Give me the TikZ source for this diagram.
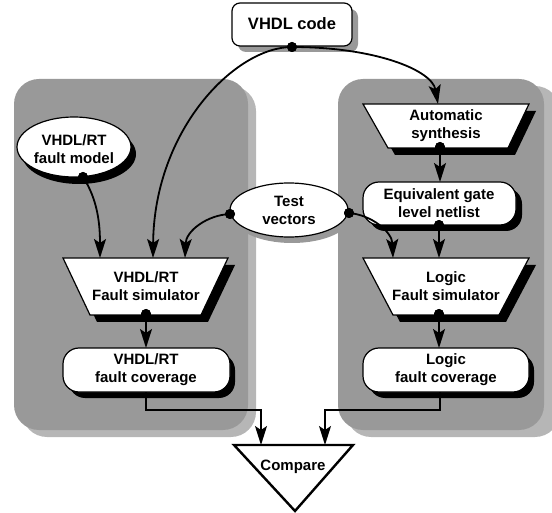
\documentclass[tikz,border=0pt]{standalone}
\usepackage{fontspec}
\setmainfont{Liberation Sans}
\usetikzlibrary{arrows.meta}
\definecolor{panel}{HTML}{999999}
\definecolor{panelshadow}{HTML}{B6B6B6}
\definecolor{outshadow}{HTML}{999999}
\begin{document}
\begin{tikzpicture}[x=1pt,y=-1pt,
  lbl/.style={font=\fontsize{15}{18}\selectfont\bfseries, align=center, inner sep=0pt},
  conn/.style={line width=1.8pt, -{Stealth[length=19pt,width=12pt,inset=4pt]}},
  elbow/.style={line width=1.3pt, -{Stealth[length=19pt,width=12pt,inset=4pt]}},
  dotnode/.style={circle, fill=black, inner sep=0pt, minimum size=10pt},
  shapebox/.style={draw=black, fill=white, line width=1.2pt},
  blackshadow/.style={fill=black},
  greyshadow/.style={fill=outshadow},
]
\useasboundingbox (0,0) rectangle (552,513);

% panels
\fill[panelshadow, rounded corners=25pt] (22,86) rectangle (256,437);
\fill[panel, rounded corners=25pt] (14,79) rectangle (248,430);
\fill[panelshadow, rounded corners=25pt] (346,86) rectangle (560,437);
\fill[panel, rounded corners=25pt] (338,79) rectangle (544,430);

% VHDL code box
\fill[greyshadow, rounded corners=8pt] (238,9) rectangle (358,52);
\draw[shapebox, rounded corners=8pt] (232,3) rectangle (352,46);
\node[lbl, font=\fontsize{16.5}{19}\selectfont\bfseries] (code) at (292,24) {VHDL code};

% VHDL/RT fault model ellipse
\fill[blackshadow] (79,154) ellipse [x radius=57pt, y radius=30pt];
\draw[shapebox] (74,147) ellipse [x radius=57pt, y radius=30pt];
\node[lbl] (model) at (74,149) {VHDL/RT\\fault model};

% Test vectors ellipse
\fill[greyshadow] (292,216) ellipse [x radius=59pt, y radius=27pt];
\draw[shapebox] (289,210) ellipse [x radius=59pt, y radius=27pt];
\node[lbl] (test) at (289,210) {Test\\vectors};

% Automatic synthesis trapezoid
\fill[blackshadow] (370,111) -- (536,111) -- (515,155) -- (395,155) -- cycle;
\draw[shapebox] (363,104) -- (529,104) -- (508,148) -- (388,148) -- cycle;
\node[lbl] (synth) at (446,126) {Automatic\\synthesis};

% Equivalent gate level netlist
\fill[blackshadow, rounded corners=16pt] (369,188) rectangle (522,231);
\draw[shapebox, rounded corners=16pt] (363,182) rectangle (516,225);
\node[lbl] (netlist) at (439,203) {Equivalent gate\\level netlist};

% VHDL/RT fault simulator
\fill[blackshadow] (70,265) -- (235,265) -- (208,322) -- (97,322) -- cycle;
\draw[shapebox] (63,258) -- (228,258) -- (201,315) -- (90,315) -- cycle;
\node[lbl] (vsim) at (146,286) {VHDL/RT\\Fault simulator};

% Logic fault simulator
\fill[blackshadow] (370,265) -- (536,265) -- (506,322) -- (400,322) -- cycle;
\draw[shapebox] (363,258) -- (529,258) -- (499,315) -- (393,315) -- cycle;
\node[lbl] (lsim) at (446,286) {Logic\\Fault simulator};

% coverage boxes
\fill[blackshadow, rounded corners=16pt] (69,354) rectangle (235,398);
\draw[shapebox, rounded corners=16pt] (63,348) rectangle (230,392);
\node[lbl] (vcov) at (146,370) {VHDL/RT\\fault coverage};
\fill[blackshadow, rounded corners=16pt] (369,354) rectangle (534,398);
\draw[shapebox, rounded corners=16pt] (363,348) rectangle (529,392);
\node[lbl] (lcov) at (446,370) {Logic\\fault coverage};

% Compare triangle
\draw[fill=white, line width=2.4pt, line join=miter] (234,445) -- (353,445) -- (295,511) -- cycle;
\node[lbl] (cmp) at (293,467) {Compare};

% connector points
\coordinate (synthin) at (438,104);
\coordinate (vsimA) at (100,258);
\coordinate (vsimB) at (153,258);
\coordinate (vsimC) at (185,258);
\coordinate (lsimA) at (393,258);
\coordinate (lsimB) at (439,258);
\coordinate (netin) at (440,182);
\coordinate (vcovin) at (146,348);
\coordinate (lcovin) at (439,348);
\coordinate (vcovout) at (146,392);
\coordinate (lcovout) at (440,392);
\coordinate (cmpA) at (261,445);
\coordinate (cmpB) at (325,445);

% dots
\node[dotnode] (dcode) at (292,47) {};
\node[dotnode] (dmodel) at (83,177) {};
\node[dotnode] (dtl) at (230,214) {};
\node[dotnode] (dtr) at (349,213) {};
\node[dotnode] (dsynth) at (440,147) {};
\node[dotnode] (dnet) at (439,225) {};
\node[dotnode] (dvsim) at (146,314) {};
\node[dotnode] (dlsim) at (439,314) {};

% connectors
\draw[conn] (dcode.center) .. controls (375,47) and (432,70) .. (synthin);
\draw[conn] (dcode.center) .. controls (235,47) and (154,130) .. (vsimB);
\draw[conn] (dmodel.center) .. controls (98,200) and (100,225) .. (vsimA);
\draw[conn] (dtl.center) .. controls (207,215) and (186,231) .. (vsimC);
\draw[conn] (dtr.center) .. controls (372,215) and (392,232) .. (lsimA);
\draw[conn] (dsynth.center) -- (netin);
\draw[conn] (dnet.center) -- (lsimB);
\draw[conn] (dvsim.center) -- (vcovin);
\draw[conn] (dlsim.center) -- (lcovin);
\draw[elbow] (vcovout) |- (261,410) -- (cmpA);
\draw[elbow] (lcovout) |- (325,410) -- (cmpB);

% redraw dots on top
\foreach \d in {dcode,dmodel,dtl,dtr,dsynth,dnet,dvsim,dlsim}
  \fill (\d.center) circle (5pt);
\end{tikzpicture}
\end{document}
